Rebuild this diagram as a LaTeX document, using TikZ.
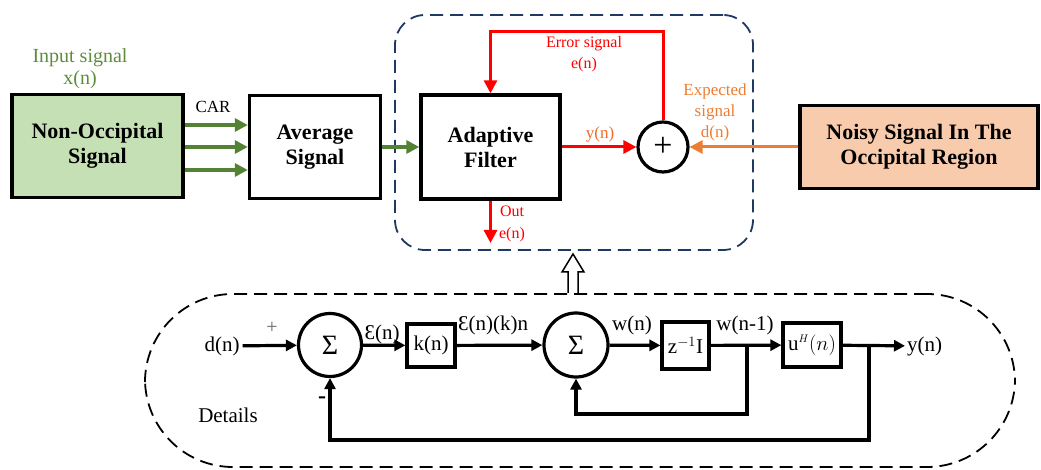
\documentclass[tikz,border=0pt]{standalone}
\usepackage{fontspec}
\setmainfont{Liberation Serif}
\usetikzlibrary{positioning,arrows.meta,calc}
\definecolor{anfGreen}{HTML}{548235}
\definecolor{anfLabel}{HTML}{5E8C3A}
\definecolor{anfLeaf}{HTML}{C5E0B4}
\definecolor{anfRed}{HTML}{FF0000}
\definecolor{anfOrange}{HTML}{ED7D31}
\definecolor{anfPeach}{HTML}{F8CBAD}
\definecolor{anfNavy}{HTML}{1F3864}
\newcommand{\fsz}[2]{\fontsize{#1}{#2}\selectfont}

\begin{document}
\begin{tikzpicture}[x=1pt, y=-1pt,
    blk/.style={draw=black, line width=3.4pt, align=center, inner sep=0pt,
      font=\fsz{22}{25}\bfseries},
    sumc/.style={circle, draw=black, line width=3.2pt, inner sep=0pt},
    tbox/.style={draw=black, line width=3.2pt, inner sep=0pt, font=\fsz{21}{24}},
    lab/.style={inner sep=0pt, align=center},
    dashzone/.style={dashed, dash pattern=on 13pt off 7pt, line width=1.8pt},
    garr/.style={-{Triangle[length=13pt, width=13pt]}, line width=3.4pt, color=anfGreen},
    rarr/.style={-{Triangle[length=13pt, width=13pt]}, line width=3pt, color=anfRed},
    oarr/.style={-{Triangle[length=13pt, width=13pt]}, line width=3pt, color=anfOrange},
    barr/.style={-{Triangle[length=11pt, width=11pt]}, line width=3.2pt}]
  \useasboundingbox (0,0) rectangle (1041,470);

  % upper part: the filter
  \node[dashzone, draw=anfNavy, rounded corners=30pt,
    minimum width=358pt, minimum height=235pt] (zone) at (574,132.5) {};
  \node[blk, fill=anfLeaf, minimum width=171pt, minimum height=103pt] (nonocc) at (97.5,146) {Non-Occipital\\Signal};
  \node[blk, minimum width=131pt, minimum height=103pt] (avg) at (315,147) {Average\\Signal};
  \node[blk, minimum width=139pt, minimum height=104pt] (adapt) at (490.5,147) {Adaptive\\Filter};
  \node[sumc, minimum size=50pt, font=\fsz{34}{34}] (sum) at (663,147) {+};
  \node[blk, fill=anfPeach, minimum width=238pt, minimum height=83pt] (noisy) at (919,147) {Noisy Signal In The\\Occipital Region};

  \node[lab, text=anfLabel, font=\fsz{20}{22}] (xin) at (80,69) {Input signal\\x(n)};
  \node[lab, font=\fsz{17}{19}] (car) at (213,107) {CAR};
  \foreach \dy in {-21,1,24}
    \draw[garr] ($(nonocc.east)+(0,\dy)$) -- ($(avg.west)+(0,\dy-1)$);
  \draw[garr] (avg) -- (adapt);

  \draw[rarr] (adapt) -- (sum);
  \node[lab, text=anfOrange!85!red, font=\fsz{17}{19}] (yn) at (600,134) {y(n)};
  \draw[rarr] (sum.north) -- ++(0,-89) -| (adapt.north);
  \node[lab, text=anfRed, font=\fsz{16}{21}] (err) at (584,54) {Error signal\\e(n)};
  \coordinate (outend) at (490.5,243);
  \draw[rarr] (adapt.south) -- (outend);
  \node[lab, text=anfRed, font=\fsz{16}{22}] (out) at (512,224) {Out\\e(n)};
  \draw[oarr] (noisy.west) -- (sum.east);
  \node[lab, text=anfOrange, font=\fsz{17}{21}] (exp) at (715,112) {Expected\\signal\\d(n)};

  % lower part: the details
  \node[dashzone, draw=black, rounded corners=88pt,
    minimum width=870pt, minimum height=173pt] (details) at (580,380.5) {};
  \coordinate (up) at (573,293);
  \draw[line width=1.5pt, fill=white] (up) ++(-5,0) -- ++(0,-21) -- ++(-6,0)
    -- (573,254) -- (584,272) -- ++(-6,0) -- ++(0,21);

  \begin{scope}[font=\fsz{21}{24}]
    \node[inner sep=3pt] (dn) at (222,346) {d(n)};
    \node[sumc, minimum size=63pt, font=\fsz{28}{28}] (sig1) at (330,345) {Σ};
    \node[tbox, minimum width=48pt, minimum height=43pt] (kbox) at (431,345.5) {k(n)};
    \node[sumc, minimum size=64pt, font=\fsz{28}{28}] (sig2) at (576,345) {Σ};
    \node[tbox, minimum width=47pt, minimum height=47pt] (zbox) at (685.5,345.5) {z$^{-1}$I};
    \node[tbox, minimum width=58pt, minimum height=44pt] (ubox) at (812,345) {u$^{\scriptscriptstyle H}(n)$};
    \node[inner sep=2pt, anchor=west] (yout) at (905,346) {y(n)};
    \coordinate (j1) at (747,345);
    \coordinate (j2) at (869,345);

    \draw[barr] (dn) -- (sig1);
    \draw[barr] (sig1) -- (kbox);
    \draw[barr] (kbox) -- (sig2);
    \draw[barr] (sig2) -- (zbox);
    \draw[barr] (zbox) -- (ubox);
    \draw[barr] (ubox) -- (yout);
    \draw[barr] (j1) -- ++(0,69) -| (sig2.south);
    \draw[barr] (j2) -- ++(0,95) -| (sig1.south);

    \node[lab, text=black!60, font=\fsz{20}{20}] (plus) at (272,328) {+};
    \node[lab, font=\fsz{24}{24}\bfseries] (minus) at (322,400) {-};
    \node[lab] (epsn) at (382,334) {Ɛ(n)};
    \node[lab] (epskn) at (493,325) {Ɛ(n)(k)n};
    \node[lab] (wn) at (632,325) {w(n)};
    \node[lab] (wn1) at (745,325) {w(n-1)};
    \node[lab] (det) at (228,415) {Details};
  \end{scope}
\end{tikzpicture}
\end{document}
